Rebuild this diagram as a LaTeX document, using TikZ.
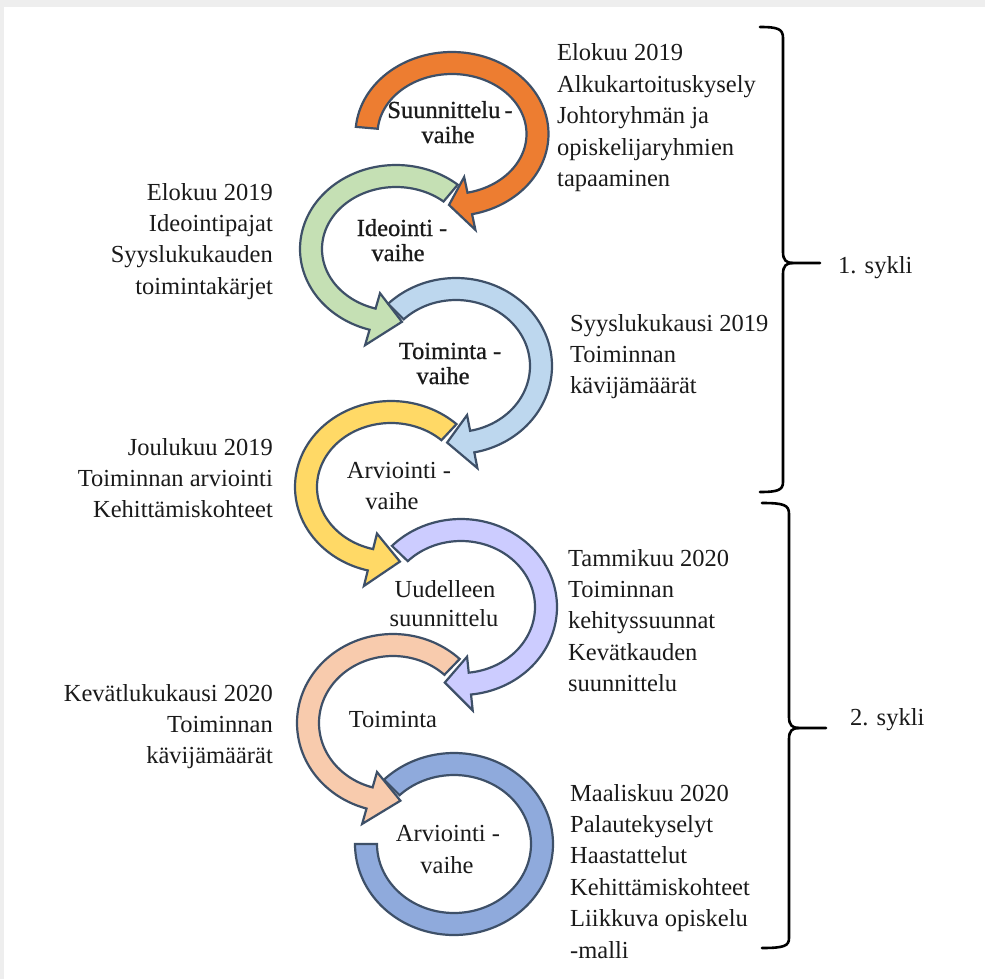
\documentclass[tikz,border=0pt]{standalone}
\usepackage{fontspec}
\setmainfont{Liberation Serif}
\newfontfamily\phasefont[FakeBold=0.8]{Liberation Serif}

\definecolor{edge}{HTML}{3E5068}
\definecolor{ink}{HTML}{1A1A1A}
\definecolor{cOrange}{HTML}{ED7D31}
\definecolor{cGreen}{HTML}{C5E0B4}
\definecolor{cSky}{HTML}{BDD7EE}
\definecolor{cYellow}{HTML}{FFD966}
\definecolor{cLav}{HTML}{CCCCFF}
\definecolor{cPeach}{HTML}{F8CBAD}
\definecolor{cBlue}{HTML}{8FAADC}
\definecolor{frame}{HTML}{EEEEEE}

% curved band arrow on an ellipse:
% #1,#2 centre, #3,#4 mid radii, #5 tail angle, #6 shaft end angle, #7 tip angle, #8 fill
\newcommand{\cyclearrow}[8]{%
  \filldraw[arrowline, fill=#8]
    plot[domain=#5:#6, samples=90] ({#1+(#3+11)*cos(\x)}, {#2-(#4+11)*sin(\x)})
    -- ({#1+(#3+27)*cos(#6)}, {#2-(#4+27)*sin(#6)})
    -- ({#1+#3*cos(#7)}, {#2-#4*sin(#7)})
    -- ({#1+(#3-27)*cos(#6)}, {#2-(#4-27)*sin(#6)})
    -- plot[domain=#6:#5, samples=90] ({#1+(#3-11)*cos(\x)}, {#2-(#4-11)*sin(\x)})
    -- cycle;}

\begin{document}
\begin{tikzpicture}[x=1pt, y=-1pt,
  arrowline/.style={draw=edge, line width=2.2pt, line join=miter},
  bracestyle/.style={draw=black, line width=2.6pt, line cap=round},
  lbl/.style={font=\fontsize{24.5}{31.4}\selectfont, text=ink, inner sep=0pt},
  phase/.style={lbl, anchor=base},
  phasebold/.style={phase, font=\fontsize{24.5}{31.4}\phasefont},
  notes/.style={lbl, anchor=base west},
  notesleft/.style={lbl, anchor=base east}]

\useasboundingbox (0,0) rectangle (985,979);
\fill[white] (0,0) rectangle (985,979);
\fill[frame] (0,0) rectangle (985,7);
\fill[frame] (0,0) rectangle (4,979);

% the phase cycle
\cyclearrow{452}{134}{85.5}{71}{175}{-78}{-92}{cOrange}
\cyclearrow{396}{249}{85}{73}{50}{254}{274}{cGreen}
\cyclearrow{456}{366}{85}{77}{135}{-79}{-96}{cSky}
\cyclearrow{391}{487}{85}{75}{47}{256}{276}{cYellow}
\cyclearrow{461}{607}{85}{77}{136}{-84}{-101}{cLav}
\cyclearrow{393}{723}{85}{78}{46}{254}{275}{cPeach}
\filldraw[arrowline, fill=cBlue]
  plot[domain=135:-180, samples=160] ({454+99*cos(\x)}, {844-91*sin(\x)})
  -- plot[domain=-180:135, samples=160] ({454+77*cos(\x)}, {844-69*sin(\x)})
  -- cycle;

% phase names
\node[phasebold] (p1a) at (450,118) {Suunnittelu\,-};
\node[phasebold] (p1b) at (448,143) {vaihe};
\node[phasebold] (p2a) at (402,236) {Ideointi -};
\node[phasebold] (p2b) at (398,261) {vaihe};
\node[phasebold] (p3a) at (450,359) {Toiminta -};
\node[phasebold] (p3b) at (443,384) {vaihe};
\node[phase] (p4a) at (399,478) {Arviointi -};
\node[phase] (p4b) at (392,509) {vaihe};
\node[phase] (p5a) at (445,597) {Uudelleen};
\node[phase] (p5b) at (444,626) {suunnittelu};
\node[phase] (p6a) at (393,727) {Toiminta};
\node[phase] (p7a) at (448,841) {Arviointi -};
\node[phase] (p7b) at (447,873) {vaihe};

% notes beside each phase
\node[notes] (n1) at (557,61) {\begin{tabular}[t]{@{}l@{}}Elokuu 2019\\Alkukartoituskysely\\Johtoryhmän ja\\opiskelijaryhmien\\tapaaminen\end{tabular}};
\node[notesleft] (n2) at (273,200) {\begin{tabular}[t]{@{}r@{}}Elokuu 2019\\Ideointipajat\\Syyslukukauden\\toimintakärjet\end{tabular}};
\node[notes] (n3) at (570,331) {\begin{tabular}[t]{@{}l@{}}Syyslukukausi 2019\\Toiminnan\\kävijämäärät\end{tabular}};
\node[notesleft] (n4) at (273,455) {\begin{tabular}[t]{@{}r@{}}Joulukuu 2019\\Toiminnan arviointi\\Kehittämiskohteet\end{tabular}};
\node[notes] (n5) at (568,566) {\begin{tabular}[t]{@{}l@{}}Tammikuu 2020\\Toiminnan\\kehityssuunnat\\Kevätkauden\\suunnittelu\end{tabular}};
\node[notesleft] (n6) at (273,701) {\begin{tabular}[t]{@{}r@{}}Kevätlukukausi 2020\\Toiminnan\\kävijämäärät\end{tabular}};
\node[notes] (n7) at (570,801) {\begin{tabular}[t]{@{}l@{}}Maaliskuu 2020\\Palautekyselyt\\Haastattelut\\Kehittämiskohteet\\Liikkuva opiskelu\\-malli\end{tabular}};

% cycle braces
\draw[bracestyle] (760,27) .. controls (778,27) and (783,29) .. (783,38) -- (783,252)
  .. controls (783,260) and (786,263) .. (793,263) -- (820,263);
\draw[bracestyle] (793,263) .. controls (786,263) and (783,266) .. (783,274) -- (783,482)
  .. controls (783,490) and (778,492) .. (760,492);
\draw[bracestyle] (762,503) .. controls (784,503) and (789,505) .. (789,514) -- (789,717)
  .. controls (789,725) and (792,728) .. (799,728) -- (826,728);
\draw[bracestyle] (799,728) .. controls (792,728) and (789,731) .. (789,739) -- (789,938)
  .. controls (789,946) and (784,948) .. (762,948);

\node[notes] (c1) at (838,273) {1. sykli};
\node[notes] (c2) at (850,725) {2. sykli};
\end{tikzpicture}
\end{document}
